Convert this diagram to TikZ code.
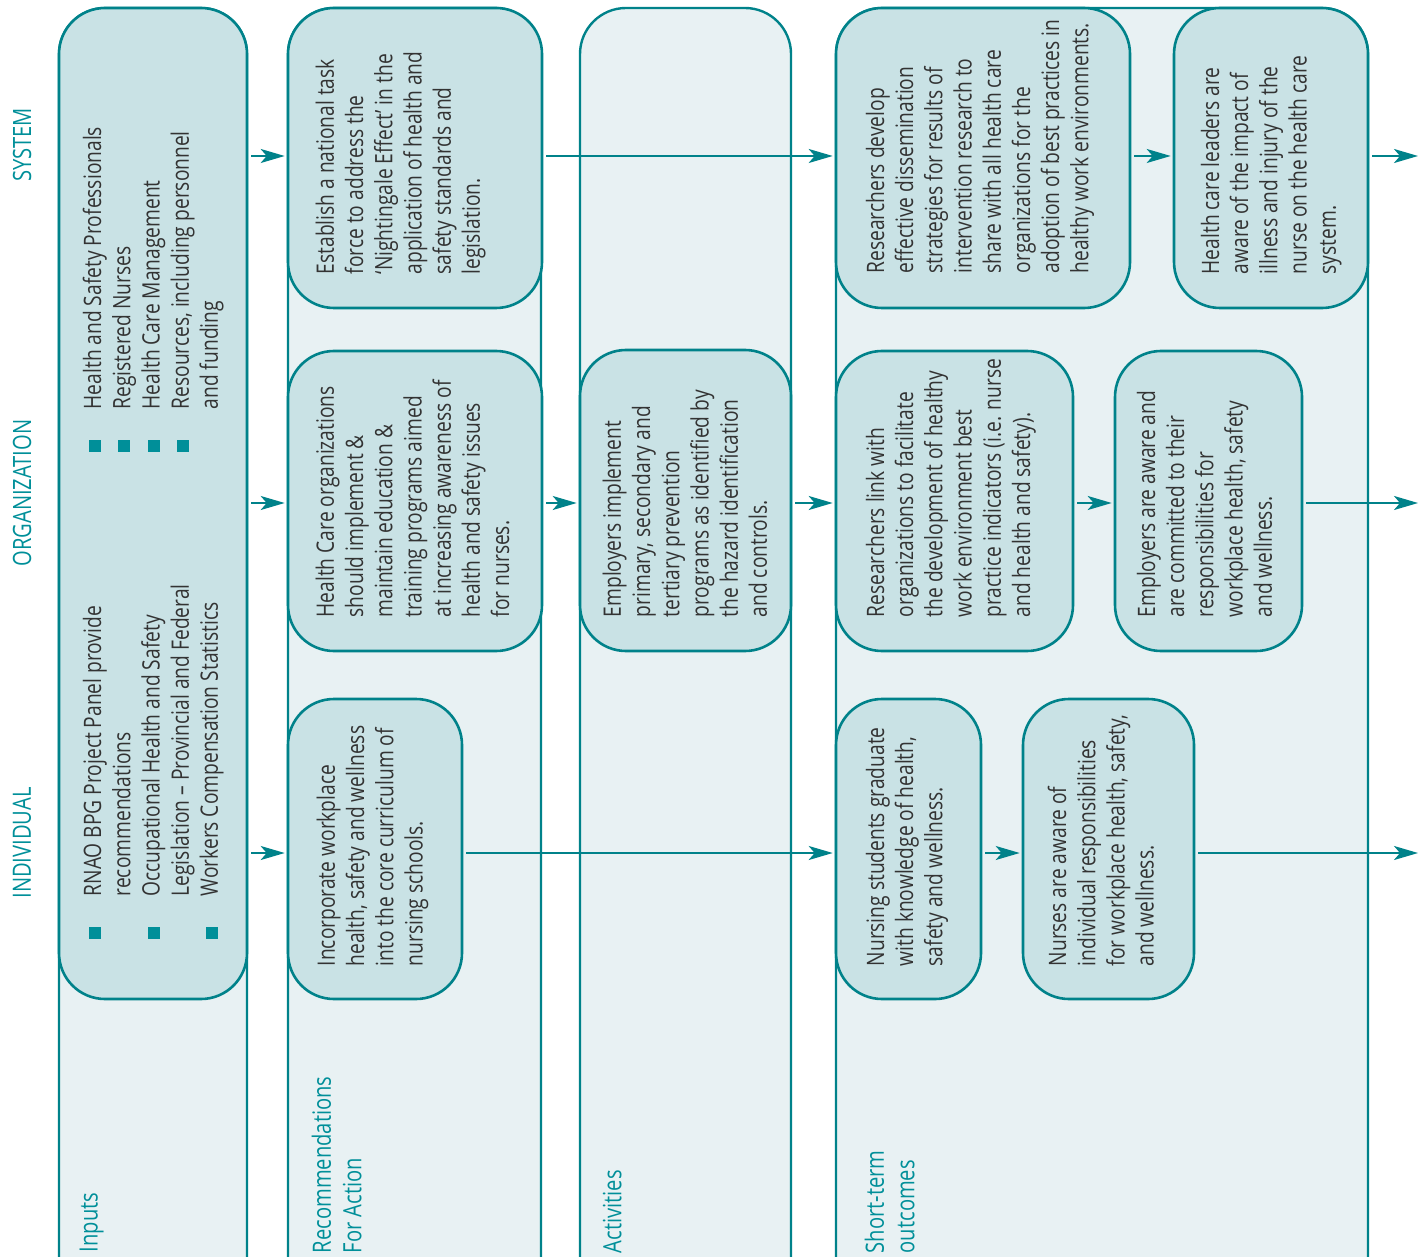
\documentclass[tikz,border=0pt]{standalone}
\usepackage{fontspec}
\setmainfont[FakeStretch=0.8]{Open Sans}
\usetikzlibrary{arrows.meta,fit}

\definecolor{tealline}{RGB}{0,130,138}
\definecolor{tealtext}{RGB}{0,143,153}
\definecolor{boxfill}{RGB}{201,226,229}
\definecolor{panelfill}{RGB}{232,241,243}
\definecolor{bodytext}{RGB}{51,51,51}

\newcommand{\sqbullet}{\textcolor{tealtext}{\rule{6pt}{6pt}}}

\tikzset{every picture/.style={line width=0.75pt}}
\tikzset{
	panel/.style={draw=tealline, fill=panelfill, line width=1.2pt, rounded corners=23pt},
	box/.style={draw=tealline, fill=boxfill, line width=1.3pt, rounded corners=23pt, inner sep=0pt},
	txt/.style={rotate=90, anchor=north west, inner sep=0pt, align=left, text=bodytext, font=\fontsize{12}{14.6}\selectfont},
	lbl/.style={rotate=90, inner sep=0pt, align=left, text=tealtext, font=\fontsize{12.6}{15.2}\selectfont},
	flow/.style={draw=tealline, line width=1.1pt, -{Stealth[length=12pt,width=7pt,inset=3pt]}, shorten <=1.5pt, shorten >=1pt}}

\begin{document}
\begin{tikzpicture}[x=0.5pt,y=0.5pt,yscale=-1,xscale=1]
	\useasboundingbox (0,0) rectangle (1427,1256);

	%Column panels
	\draw[panel] (59,8) rectangle (247,1320);
	\draw[panel] (288,8) rectangle (541,1320);
	\draw[panel] (580,8) rectangle (791,1320);
	\draw[panel] (836,8) rectangle (1368,1320);

	%Row levels and free ends
	\coordinate (rowS) at (0,156);
	\coordinate (rowO) at (0,503);
	\coordinate (rowI) at (0,853);
	\coordinate (outS) at (1420,156);
	\coordinate (outO) at (1420,503);
	\coordinate (outI) at (1420,853);

	%Rounded Rect: inputs
	\node[box, fit={(59,8) (247,999)}] (inp) {};
	%Rounded Rect: recommendations
	\node[box, fit={(288,8) (542,308)}] (rec1) {};
	\node[box, fit={(288,351) (542,651)}] (rec2) {};
	\node[box, fit={(288,699) (462,999)}] (rec3) {};
	%Rounded Rect: activities
	\node[box, fit={(580,350) (791,651)}] (act) {};
	%Rounded Rect: short-term outcomes
	\node[box, fit={(836,8) (1130,308)}] (st1a) {};
	\node[box, fit={(1174,8) (1368,308)}] (st1b) {};
	\node[box, fit={(836,351) (1073,651)}] (st2a) {};
	\node[box, fit={(1115,351) (1302,651)}] (st2b) {};
	\node[box, fit={(836,699) (981,999)}] (st3a) {};
	\node[box, fit={(1023,699) (1194,999)}] (st3b) {};

	% Text Node
	\node[txt] (tInpA) at (80,940) {\begin{tabular}{@{}l@{\hspace{15.5pt}}l@{}}
		\sqbullet & RNAO BPG Project Panel provide\\
		& recommendations\\
		\sqbullet & Occupational Health and Safety\\
		& Legislation – Provincial and Federal\\
		\sqbullet & Workers Compensation Statistics
	\end{tabular}};
	% Text Node
	\node[txt] (tInpB) at (80,453) {\begin{tabular}{@{}l@{\hspace{15.5pt}}l@{}}
		\sqbullet & Health and Safety Professionals\\
		\sqbullet & Registered Nurses\\
		\sqbullet & Health Care Management\\
		\sqbullet & Resources, including personnel\\
		& and funding
	\end{tabular}};
	% Text Node
	\node[txt] (tRec1) at (315,275) {Establish a national task\\force to address the\\‘Nightingale Effect’ in the\\application of health and\\safety standards and\\legislation.};
	% Text Node
	\node[txt] (tRec2) at (315,618) {Health Care organizations\\should implement \&\\maintain education \&\\training programs aimed\\at increasing awareness of\\health and safety issues\\for nurses.};
	% Text Node
	\node[txt] (tRec3) at (316,967) {Incorporate workplace\\health, safety and wellness\\into the core curriculum of\\nursing schools.};
	% Text Node
	\node[txt] (tAct) at (602,618) {Employers implement\\primary, secondary and\\tertiary prevention\\programs as identified by\\the hazard identification\\and controls.};
	% Text Node
	\node[txt] (tSt1a) at (865,274) {Researchers develop\\effective dissemination\\strategies for results of\\intervention research to\\share with all health care\\organizations for the\\adoption of best practices in\\healthy work environments.};
	% Text Node
	\node[txt] (tSt1b) at (1200,275) {Health care leaders are\\aware of the impact of\\illness and injury of the\\nurse on the health care\\system.};
	% Text Node
	\node[txt] (tSt2a) at (865,618) {Researchers link with\\organizations to facilitate\\the development of healthy\\work environment best\\practice indicators (i.e. nurse\\and health and safety).};
	% Text Node
	\node[txt] (tSt2b) at (1136,618) {Employers are aware and\\are committed to their\\responsibilities for\\workplace health, safety\\and wellness.};
	% Text Node
	\node[txt] (tSt3a) at (865,967) {Nursing students graduate\\with knowledge of health,\\safety and wellness.};
	% Text Node
	\node[txt] (tSt3b) at (1047,967) {Nurses are aware of\\individual responsibilities\\for workplace health, safety,\\and wellness.};

	%Row labels
	\node[lbl] (lSys) at (22,145) {SYSTEM};
	\node[lbl] (lOrg) at (22,493) {ORGANIZATION};
	\node[lbl] (lInd) at (22,843) {INDIVIDUAL};

	%Column titles
	\node[lbl, anchor=north west] (hInp) at (79,1253) {Inputs};
	\node[lbl, anchor=north west] (hRec) at (311,1254) {Recommendations\\For Action};
	\node[lbl, anchor=north west] (hAct) at (602,1254) {Activities};
	\node[lbl, anchor=north west] (hSt) at (864,1254) {Short-term\\outcomes};

	%Arrows: system
	\draw[flow] (inp.east |- rowS) -- (rec1.west |- rowS);
	\draw[flow] (rec1.east |- rowS) -- (st1a.west |- rowS);
	\draw[flow] (st1a.east |- rowS) -- (st1b.west |- rowS);
	\draw[flow] (st1b.east |- rowS) -- (outS);
	%Arrows: organization
	\draw[flow] (inp.east |- rowO) -- (rec2.west |- rowO);
	\draw[flow] (rec2.east |- rowO) -- (act.west |- rowO);
	\draw[flow] (act.east |- rowO) -- (st2a.west |- rowO);
	\draw[flow] (st2a.east |- rowO) -- (st2b.west |- rowO);
	\draw[flow] (st2b.east |- rowO) -- (outO);
	%Arrows: individual
	\draw[flow] (inp.east |- rowI) -- (rec3.west |- rowI);
	\draw[flow] (rec3.east |- rowI) -- (st3a.west |- rowI);
	\draw[flow] (st3a.east |- rowI) -- (st3b.west |- rowI);
	\draw[flow] (st3b.east |- rowI) -- (outI);

\end{tikzpicture}
\end{document}
